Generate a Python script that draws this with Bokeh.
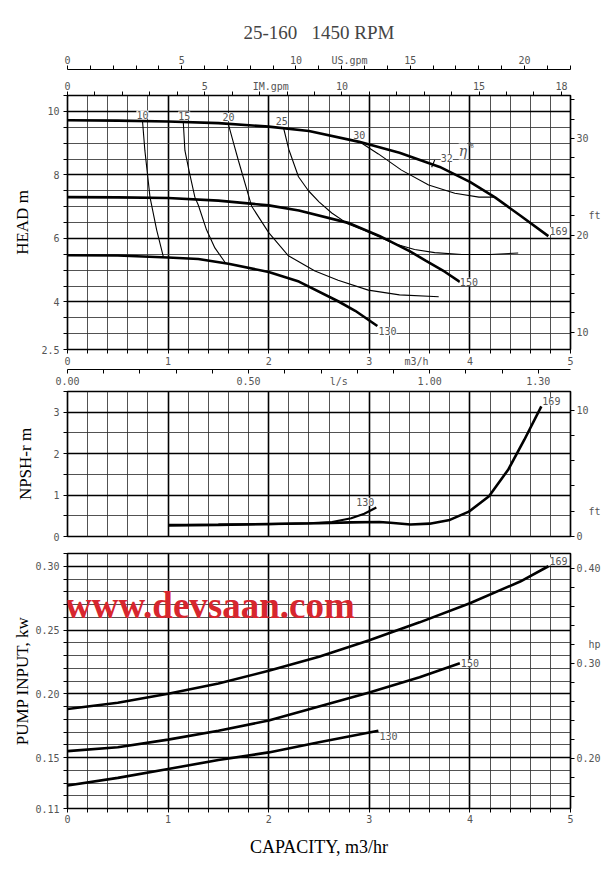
import numpy as np
from bokeh.plotting import figure
from bokeh.models import LinearAxis, Range1d, FixedTicker, ColumnDataSource, LabelSet, Label
from bokeh.layouts import column
from bokeh.embed import file_html
from bokeh.resources import INLINE
from bokeh.core.properties import value

TITLE = "25-160\u00a0\u00a0\u00a01450 RPM"

# ---------------- HEAD (m) vs capacity (m3/h) ----------------
head_169_q = [0.0, 0.5, 1.0, 1.5, 2.0, 2.4, 2.9, 3.3, 3.7, 4.0, 4.25, 4.5, 4.78]
head_169_h = [9.72, 9.71, 9.68, 9.63, 9.52, 9.38, 9.04, 8.70, 8.25, 7.78, 7.29, 6.72, 6.07]
head_150_q = [0.0, 0.5, 1.0, 1.5, 2.0, 2.3, 2.8, 3.1, 3.4, 3.56, 3.75, 3.9]
head_150_h = [7.30, 7.29, 7.27, 7.19, 7.04, 6.88, 6.48, 6.08, 5.60, 5.30, 4.95, 4.63]
head_130_q = [0.0, 0.5, 1.0, 1.3, 1.6, 2.0, 2.3, 2.69, 2.86, 3.08]
head_130_h = [5.47, 5.46, 5.40, 5.35, 5.20, 4.94, 4.64, 4.02, 3.72, 3.24]

# iso-efficiency lines (%)
eff_10_q = [0.746, 0.769, 0.796, 0.82, 0.886, 0.952]
eff_10_h = [9.68, 8.77, 8.00, 7.30, 6.27, 5.43]
eff_15_q = [1.151, 1.167, 1.21, 1.266, 1.30, 1.382, 1.465, 1.576]
eff_15_h = [9.66, 8.77, 8.10, 7.30, 7.05, 6.27, 5.70, 5.20]
eff_20_q = [1.599, 1.65, 1.698, 1.831, 2.0, 2.196, 2.46, 2.69, 2.99, 3.3, 3.69]
eff_20_h = [9.60, 9.01, 8.46, 7.01, 6.18, 5.45, 4.97, 4.68, 4.37, 4.22, 4.16]
eff_25_q = [2.146, 2.20, 2.296, 2.395, 2.50, 2.627, 2.79, 2.95, 3.10, 3.26, 3.45, 3.65, 3.92, 4.2, 4.48]
eff_25_h = [9.50, 8.80, 7.94, 7.50, 7.15, 6.80, 6.45, 6.25, 6.04, 5.82, 5.65, 5.55, 5.49, 5.49, 5.54]
eff_30_q = [2.91, 3.09, 3.32, 3.59, 3.85, 4.09, 4.25]
eff_30_h = [9.03, 8.66, 8.15, 7.68, 7.42, 7.30, 7.30]
eff_32_tick_q = [3.62, 3.65]
eff_32_tick_h = [8.24, 8.47]

eff_labels = ["10", "15", "20", "25", "30", "32"]
eff_label_q = [0.745, 1.16, 1.60, 2.13, 2.90, 3.77]
eff_label_h = [9.90, 9.87, 9.82, 9.70, 9.26, 8.54]

head_curve_labels = ["169", "150", "130"]
head_label_q = [4.88, 3.99, 3.18]
head_label_h = [6.23, 4.63, 3.07]

# ---------------- NPSH-r (m) ----------------
npsh_169_q = [1.0, 1.5, 2.0, 2.5, 2.82, 3.10, 3.21, 3.41, 3.60, 3.80, 3.99, 4.19, 4.38, 4.54, 4.71]
npsh_169_y = [0.265, 0.28, 0.30, 0.32, 0.34, 0.35, 0.33, 0.29, 0.31, 0.40, 0.60, 0.97, 1.61, 2.33, 3.14]
npsh_130_q = [1.0, 1.5, 2.0, 2.4, 2.63, 2.82, 2.95, 3.07]
npsh_130_y = [0.28, 0.285, 0.30, 0.32, 0.35, 0.44, 0.55, 0.70]
npsh_curve_labels = ["169", "130"]
npsh_label_q = [4.81, 2.96]
npsh_label_y = [3.26, 0.84]

# ---------------- PUMP INPUT (kW) ----------------
pwr_169_q = [0.0, 0.5, 1.0, 1.5, 2.0, 2.5, 3.0, 3.5, 4.0, 4.5, 4.78]
pwr_169_p = [0.188, 0.193, 0.200, 0.208, 0.218, 0.229, 0.242, 0.256, 0.271, 0.288, 0.300]
pwr_150_q = [0.0, 0.5, 1.0, 1.5, 2.0, 2.5, 3.0, 3.5, 3.9]
pwr_150_p = [0.155, 0.158, 0.164, 0.171, 0.179, 0.190, 0.201, 0.213, 0.224]
pwr_130_q = [0.0, 0.5, 1.0, 1.5, 2.0, 2.5, 3.09]
pwr_130_p = [0.128, 0.134, 0.141, 0.148, 0.154, 0.162, 0.171]
pwr_curve_labels = ["169", "150", "130"]
pwr_label_q = [4.88, 4.00, 3.19]
pwr_label_p = [0.304, 0.224, 0.1665]

# ---------------- axis tick labels ----------------
m3h_tick_pos = [0, 1, 2, 3, 3.47, 4, 5]
m3h_tick_txt = ["0", "1", "2", "3", "m3/h", "4", "5"]
m3h_plain_pos = [0, 1, 2, 3, 4, 5]
m3h_plain_txt = ["0", "1", "2", "3", "4", "5"]
usgpm_tick_pos = [0, 5, 10, 12.34, 15, 20]
usgpm_tick_txt = ["0", "5", "10", "US.gpm", "15", "20"]
imgpm_tick_pos = [0, 5, 7.41, 10, 15, 18]
imgpm_tick_txt = ["0", "5", "IM.gpm", "10", "15", "18"]
ls_tick_pos = [0.0, 0.5, 0.749, 1.0, 1.3]
ls_tick_txt = ["0.00", "0.50", "l/s", "1.00", "1.30"]
head_tick_pos = [2.5, 4, 6, 8, 10]
head_tick_txt = ["2.5", "4", "6", "8", "10"]
ft_head_tick_pos = [10, 20, 22.1, 30]
ft_head_tick_txt = ["10", "20", "\u00a0\u00a0ft", "30"]
npsh_tick_pos = [0, 1, 2, 3]
npsh_tick_txt = ["0", "1", "2", "3"]
ft_npsh_tick_pos = [0, 2, 10]
ft_npsh_tick_txt = ["0", "\u00a0\u00a0ft", "10"]
kw_tick_pos = [0.11, 0.15, 0.20, 0.25, 0.30]
kw_tick_txt = ["0.11", "0.15", "0.20", "0.25", "0.30"]
hp_tick_pos = [0.20, 0.30, 0.32, 0.40]
hp_tick_txt = ["0.20", "0.30", "\u00a0\u00a0hp", "0.40"]

M3H_TO_USGPM = 4.40287
M3H_TO_IMGPM = 3.66615
M3H_TO_LS = 1 / 3.6
M_TO_FT = 3.28084
KW_TO_HP = 1.34102

Q_MAX = 5.0
HEAD_RANGE = (2.5, 10.5)
NPSH_RANGE = (0.0, 3.5)
KW_RANGE = (0.11, 0.31)


def steps(a, b, s):
    return [round(v, 4) for v in np.arange(a, b + s / 2, s)]


TICK_FONT = "DejaVu Sans Mono"
TICK_SIZE = "10px"
TICK_COLOR = "#555555"
SERIF = "Liberation Serif"


def style_axis(ax, pos, txt, minor, standoff=2):
    ax.ticker = FixedTicker(ticks=list(pos), minor_ticks=list(minor))
    ax.major_label_overrides = {p: t for p, t in zip(pos, txt)}
    ax.major_tick_line_color = None
    ax.major_tick_out = 4
    ax.major_tick_in = 0
    ax.minor_tick_out = 4
    ax.minor_tick_in = 0
    ax.minor_tick_line_color = "black"
    ax.minor_tick_line_width = 1
    ax.axis_line_color = "black"
    ax.axis_line_width = 1.2
    ax.major_label_text_font = TICK_FONT
    ax.major_label_text_font_size = TICK_SIZE
    ax.major_label_text_color = TICK_COLOR
    ax.major_label_standoff = standoff
    ax.axis_label_text_font = SERIF
    ax.axis_label_text_font_style = "normal"
    ax.axis_label_text_color = "black"


def style_grid(p, xmaj, xmin, ymaj, ymin):
    p.xgrid.ticker = FixedTicker(ticks=xmaj, minor_ticks=xmin)
    p.ygrid.ticker = FixedTicker(ticks=ymaj, minor_ticks=ymin)
    for g in (p.xgrid, p.ygrid):
        g.grid_line_color = "black"
        g.grid_line_width = 1.6
        g.grid_line_alpha = 1.0
        g.minor_grid_line_color = "#333333"
        g.minor_grid_line_width = 0.85
    p.outline_line_color = "black"
    p.outline_line_width = 1.5
    p.background_fill_color = "white"
    p.border_fill_color = "white"


def labels(p, xs, ys, ts, size=TICK_SIZE, **kw):
    src = ColumnDataSource(dict(x=xs, y=ys, t=ts))
    p.add_layout(LabelSet(x="x", y="y", text="t", source=src,
                          text_font=value(TICK_FONT), text_font_size=value(size),
                          text_color=TICK_COLOR, text_align="center", text_baseline="middle",
                          background_fill_color="white", **kw))


W = 605
BL = 67   # left border
BR = 35   # right border
q_major = [0, 1, 2, 3, 4, 5]
q_minor = steps(0, Q_MAX, 0.2)

# ======================= HEAD figure =======================
p1 = figure(width=W, height=389, x_range=Range1d(0, Q_MAX), y_range=Range1d(*HEAD_RANGE),
            output_backend="svg", toolbar_location=None,
            min_border_left=BL, min_border_right=BR, min_border_top=95, min_border_bottom=36)
p1.title.text = TITLE
p1.title.align = "center"
p1.title.text_font = SERIF
p1.title.text_font_size = "19px"
p1.title.text_font_style = "normal"
p1.title.standoff = 17

p1.extra_x_ranges = {"us": Range1d(0, Q_MAX * M3H_TO_USGPM),
                     "im": Range1d(0, Q_MAX * M3H_TO_IMGPM),
                     "ls": Range1d(0, Q_MAX * M3H_TO_LS)}
p1.extra_y_ranges = {"ft": Range1d(HEAD_RANGE[0] * M_TO_FT, HEAD_RANGE[1] * M_TO_FT)}

style_grid(p1, q_major, q_minor, [4, 6, 8, 10], steps(2.5, 10.5, 0.5))

style_axis(p1.xaxis[0], m3h_tick_pos, m3h_tick_txt, q_minor)
style_axis(p1.yaxis[0], head_tick_pos, head_tick_txt, steps(2.5, 10.5, 0.5), standoff=4)
p1.yaxis[0].axis_label = "HEAD m"
p1.yaxis[0].axis_label_text_font_size = "17px"
p1.yaxis[0].axis_label_standoff = 6

ax_im = LinearAxis(x_range_name="im")
style_axis(ax_im, imgpm_tick_pos, imgpm_tick_txt, steps(0, 18, 1), standoff=0)
ax_im.axis_label = "\u00a0"
ax_im.axis_label_text_font_size = "4px"
ax_im.axis_label_standoff = 0
p1.add_layout(ax_im, "above")

ax_us = LinearAxis(x_range_name="us")
style_axis(ax_us, usgpm_tick_pos, usgpm_tick_txt, steps(0, 22, 1), standoff=0)
p1.add_layout(ax_us, "above")

ax_ls = LinearAxis(x_range_name="ls")
style_axis(ax_ls, ls_tick_pos, ls_tick_txt, steps(0, 1.3, 0.1))
p1.add_layout(ax_ls, "below")

ax_ft = LinearAxis(y_range_name="ft")
style_axis(ax_ft, ft_head_tick_pos, ft_head_tick_txt, steps(10, 34, 2))
p1.add_layout(ax_ft, "right")

for q, h in [(eff_10_q, eff_10_h), (eff_15_q, eff_15_h), (eff_20_q, eff_20_h),
             (eff_25_q, eff_25_h), (eff_30_q, eff_30_h), (eff_32_tick_q, eff_32_tick_h)]:
    p1.line(q, h, line_color="black", line_width=1.1)
for q, h in [(head_169_q, head_169_h), (head_150_q, head_150_h), (head_130_q, head_130_h)]:
    p1.line(q, h, line_color="black", line_width=2.6)

labels(p1, eff_label_q, eff_label_h, eff_labels)
labels(p1, head_label_q, head_label_h, head_curve_labels)
p1.add_layout(Label(x=3.93, y=8.74, text="\u03b7", text_font="DejaVu Serif",
                    text_font_style="italic", text_font_size="14px", text_color=TICK_COLOR,
                    text_align="center", text_baseline="middle", background_fill_color="white"))
p1.add_layout(Label(x=4.01, y=8.93, text="%", text_font=TICK_FONT, text_font_size="9px",
                    text_color=TICK_COLOR, text_align="center", text_baseline="middle"))

# ======================= NPSH figure =======================
p2 = figure(width=W, height=155, x_range=p1.x_range, y_range=Range1d(*NPSH_RANGE),
            output_backend="svg", toolbar_location=None,
            min_border_left=BL, min_border_right=BR, min_border_top=2, min_border_bottom=8)
p2.extra_y_ranges = {"ft": Range1d(NPSH_RANGE[0] * M_TO_FT, NPSH_RANGE[1] * M_TO_FT)}
style_grid(p2, q_major, q_minor, [1, 2, 3], steps(0, 3.5, 0.5))
p2.xaxis.visible = False
style_axis(p2.yaxis[0], npsh_tick_pos, npsh_tick_txt, steps(0, 3.5, 0.5), standoff=4)
p2.yaxis[0].axis_label = "NPSH-r m"
p2.yaxis[0].axis_label_text_font_size = "17px"
p2.yaxis[0].axis_label_standoff = 15
ax_ft2 = LinearAxis(y_range_name="ft")
style_axis(ax_ft2, ft_npsh_tick_pos, ft_npsh_tick_txt, steps(0, 10, 2))
p2.add_layout(ax_ft2, "right")
p2.line(npsh_130_q, npsh_130_y, line_color="black", line_width=2.2)
p2.line(npsh_169_q, npsh_169_y, line_color="black", line_width=2.6)
labels(p2, npsh_label_q, npsh_label_y, npsh_curve_labels)

# ======================= POWER figure =======================
p3 = figure(width=W, height=315, x_range=p1.x_range, y_range=Range1d(*KW_RANGE),
            output_backend="svg", toolbar_location=None,
            min_border_left=BL, min_border_right=BR, min_border_top=9, min_border_bottom=48)
p3.extra_y_ranges = {"hp": Range1d(KW_RANGE[0] * KW_TO_HP, KW_RANGE[1] * KW_TO_HP)}
style_grid(p3, q_major, q_minor, [0.15, 0.20, 0.25, 0.30], steps(0.11, 0.31, 0.01))
style_axis(p3.xaxis[0], m3h_plain_pos, m3h_plain_txt, q_minor)
p3.xaxis[0].axis_label = "CAPACITY, m3/hr"
p3.xaxis[0].axis_label_text_font_size = "18px"
p3.xaxis[0].axis_label_standoff = 11
style_axis(p3.yaxis[0], kw_tick_pos, kw_tick_txt, steps(0.11, 0.31, 0.01), standoff=4)
p3.yaxis[0].axis_label = "PUMP INPUT, kw"
p3.yaxis[0].axis_label_text_font_size = "17px"
p3.yaxis[0].axis_label_standoff = 0
ax_hp = LinearAxis(y_range_name="hp")
style_axis(ax_hp, hp_tick_pos, hp_tick_txt, steps(0.16, 0.40, 0.02))
p3.add_layout(ax_hp, "right")
for q, pw in [(pwr_169_q, pwr_169_p), (pwr_150_q, pwr_150_p), (pwr_130_q, pwr_130_p)]:
    p3.line(q, pw, line_color="black", line_width=2.6)
labels(p3, pwr_label_q, pwr_label_p, pwr_curve_labels)
p3.add_layout(Label(x=-0.025, y=0.269, text="www.devsaan.com", text_font=SERIF,
                    text_font_style="bold", text_font_size="37px", text_color="#d7262e",
                    text_baseline="alphabetic", text_align="left"))

layout = column(p1, p2, p3, spacing=0)
open("out.html", "w").write(file_html(layout, INLINE))
